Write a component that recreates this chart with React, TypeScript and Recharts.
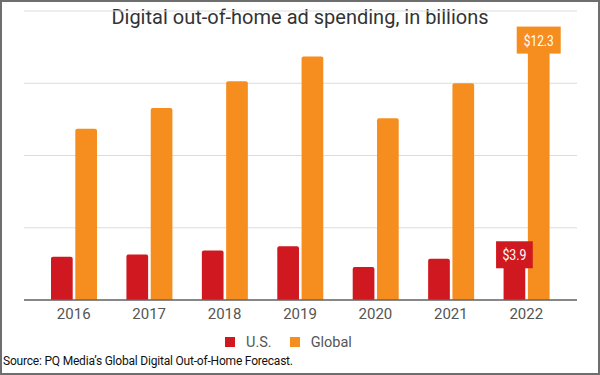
import { BarChart, Bar, XAxis, YAxis, CartesianGrid, Legend, LabelList } from "recharts";

const years = ["2016", "2017", "2018", "2019", "2020", "2021", "2022"];
const usSpend = [2.1, 2.2, 2.4, 2.6, 1.6, 2.0, 1.9];
const globalSpend = [8.3, 9.3, 10.6, 11.8, 8.8, 10.5, 12.3];
// callout boxes only on the last year, text as printed in the source
const usCallouts = ["", "", "", "", "", "", "$3.9"];
const globalCallouts = ["", "", "", "", "", "", "$12.3"];
const yTicks = [0, 3.5, 7, 10.5];
const seriesOrder = ["us", "global"];

const RED = "#cf1820";
const ORANGE = "#f68e1f";
const FONT = "Roboto, sans-serif";

const data = years.map((year, i) => ({
  year,
  us: usSpend[i],
  global: globalSpend[i],
  usNote: usCallouts[i],
  globalNote: globalCallouts[i],
}));

function callout(fill: string) {
  return (props: any) => {
    const { value } = props;
    if (!value) return null;
    const vb = props.viewBox ?? props;
    const text = String(value);
    const w = text.length * 7.3 + 7.5;
    const cx = Number(vb.x) + Number(vb.width) / 2;
    const top = Number(vb.y) - 19.5;
    return (
      <g>
        <rect x={cx - w / 2} y={top} width={w} height={27} fill={fill} />
        <text
          x={cx} y={top + 19} textAnchor="middle" fill="#fff"
          fontSize={14} fontFamily={FONT}
          textLength={text.length * 6} lengthAdjust="spacingAndGlyphs"
        >
          {text}
        </text>
      </g>
    );
  };
}

function LegendRow({ payload }: any) {
  // recharts sorts legend items by name, put them back in series order
  const items = [...(payload || [])].sort(
    (a: any, b: any) => seriesOrder.indexOf(a.dataKey) - seriesOrder.indexOf(b.dataKey)
  );
  return (
    <div style={{ display: "flex", alignItems: "center", paddingLeft: 225, height: 20, fontFamily: FONT, fontSize: 14.5, color: "#555" }}>
      {items.map((p: any) => (
        <div key={p.value} style={{ display: "flex", alignItems: "center", marginRight: 18 }}>
          <span style={{ width: 10, height: 10, background: p.color, marginRight: 11, display: "inline-block" }} />
          <span>{p.value}</span>
        </div>
      ))}
    </div>
  );
}

export default function App() {
  return (
    <div style={{ position: "absolute", left: 0, top: 0, width: 600, height: 375, background: "#fff", overflow: "hidden" }}>
      <div style={{ position: "absolute", top: 7, left: 0, width: 600, textAlign: "center", fontFamily: FONT, fontSize: 20, lineHeight: "20px", color: "#333" }}>
        Digital out-of-home ad spending, in billions
      </div>
      <BarChart
        width={600} height={375} data={data}
        margin={{ top: 11, right: 23, left: 24, bottom: 45 }}
        barSize={21.7} barGap={2.6}
      >
        <CartesianGrid vertical={false} stroke="#dcdcdc" />
        <XAxis
          dataKey="year"
          height={30}
          padding={{ left: 12, right: 13 }}
          tickLine={false}
          tickMargin={2}
          axisLine={{ stroke: "#666", strokeWidth: 1.5 }}
          tick={{ fontSize: 15, fill: "#555", fontFamily: FONT }}
        />
        <YAxis hide domain={[0, 14]} ticks={yTicks} />
        <Legend
          verticalAlign="middle" align="center"
          content={<LegendRow />}
          wrapperStyle={{ position: "absolute", left: 0, top: 332, width: 600, height: 20 }}
        />
        <Bar dataKey="us" name="U.S." fill={RED} radius={[2, 2, 0, 0]} isAnimationActive={false}>
          <LabelList dataKey="usNote" content={callout(RED)} />
        </Bar>
        <Bar dataKey="global" name="Global" fill={ORANGE} radius={[2, 2, 0, 0]} isAnimationActive={false}>
          <LabelList dataKey="globalNote" content={callout(ORANGE)} />
        </Bar>
      </BarChart>
      <div style={{ position: "absolute", left: 3, top: 353, fontFamily: FONT, fontSize: 12, letterSpacing: -0.2, lineHeight: "16px", color: "#111" }}>
        Source: PQ Media’s Global Digital Out-of-Home Forecast.
      </div>
      <div style={{ position: "absolute", inset: 0, border: "2px solid #6e6e6e", pointerEvents: "none" }} />
    </div>
  );
}
